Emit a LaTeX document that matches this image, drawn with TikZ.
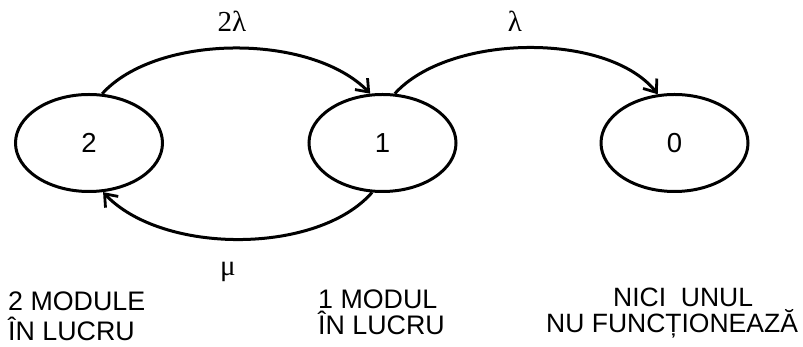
\documentclass[tikz,border=0pt]{standalone}
\usepackage{fontspec}
\setmainfont{Liberation Sans}
\newfontfamily\grk{Liberation Serif}
\usetikzlibrary{shapes.geometric,arrows.meta,bending}
\tikzset{
  state/.style={draw, ellipse, line width=3pt, minimum width=147pt, minimum height=97pt, inner sep=0pt, font=\fontsize{27.5}{31}\selectfont},
  arc/.style={line width=3pt, -{Straight Barb[length=11pt,width=17pt,line width=2.8pt]}},
  rate/.style={font=\grk\fontsize{29}{30}\selectfont, inner sep=0pt},
  desc/.style={align=left, inner sep=0pt, anchor=base west}
}
\begin{document}
\begin{tikzpicture}[x=1pt,y=1pt]
\useasboundingbox (0,0) rectangle (803,347);
\node[state] (e2) at (89,204) {2};
\node[state] (e1) at (382.5,204) {1};
\node[state] (e0) at (674.5,204) {0};
\draw[arc] (e2.75) .. controls +(55,61) and +(-55,61) .. (e1.104);
\draw[arc] (e1.76) .. controls +(55,61) and +(-45,63) .. (e0.109);
\draw[arc] (e1.-102) .. controls +(-55,-63) and +(55,-63) .. (e2.-74);
\node[rate] (l2) at (232,326) {2λ};
\node[rate] (l1) at (515,326) {λ};
\node[rate] (mu) at (228,75) {μ};
\node[desc, font=\fontsize{26.8}{30}\selectfont] (d2) at (8,6) {2 MODULE\\ÎN LUCRU};
\node[desc, font=\fontsize{26.8}{26}\selectfont] (d1) at (318,12) {1 MODUL\\ÎN LUCRU};
\node[desc, font=\fontsize{26.5}{26}\selectfont] (d0) at (546,14) {\hspace*{67pt}NICI\ \ UNUL\\NU FUNCȚIONEAZĂ};
\end{tikzpicture}
\end{document}
